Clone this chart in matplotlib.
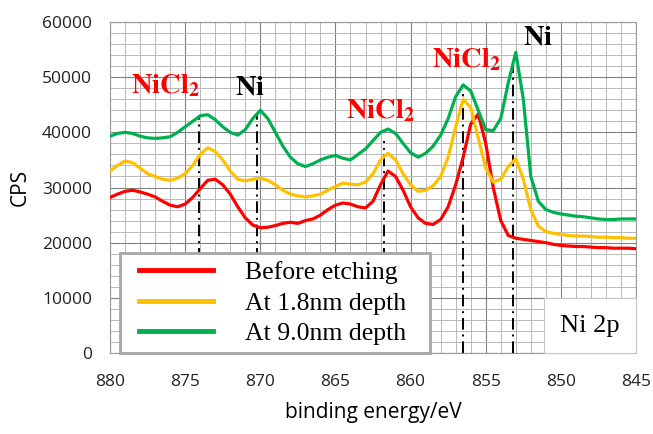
import numpy as np
import matplotlib.pyplot as plt
from matplotlib.ticker import MultipleLocator
from matplotlib.legend_handler import HandlerLine2D
from matplotlib.lines import Line2D
from matplotlib.offsetbox import AnchoredText

plt.rcParams['mathtext.fontset'] = 'stix'

# binding energy grid (eV), 0.5 eV steps from 880 down to 845
energy = np.arange(880, 844.9, -0.5)

before_etching = [
    28200, 28800, 29300, 29500, 29200, 28800, 28300, 27500, 26800, 26500,
    27000, 28200, 29800, 31300, 31500, 30500, 28800, 26500, 24500, 23200,
    22700, 22800, 23100, 23500, 23700, 23500, 24000, 24300, 25000, 26000,
    26800, 27200, 27000, 26500, 26300, 27500, 30500, 33000, 32000, 29500,
    26500, 24500, 23500, 23300, 24200, 26500, 30500, 35500, 41500, 43300,
    38000, 30000, 24000, 21300, 20800, 20600, 20400, 20200, 20000, 19700,
    19500, 19400, 19300, 19300, 19200, 19100, 19100, 19000, 19000, 19000,
    18900,
]
depth_1_8nm = [
    33000, 34000, 34800, 34500, 33500, 32500, 32000, 31500, 31300, 31700,
    32500, 34000, 36000, 37200, 36500, 35000, 33000, 31500, 31200, 31500,
    31700, 31300, 30500, 29500, 28800, 28500, 28300, 28500, 28800, 29500,
    30200, 30800, 30600, 30500, 31000, 32500, 35000, 36200, 35000, 32500,
    30500, 29300, 29500, 30300, 32000, 35500, 41000, 46000, 44500, 39000,
    33500, 31000, 31500, 33800, 35200, 31500, 26000, 23000, 22000, 21700,
    21500, 21300, 21200, 21200, 21100, 21000, 21000, 20900, 20900, 20800,
    20800,
]
depth_9_0nm = [
    39300, 39800, 40000, 39800, 39300, 39000, 38900, 39000, 39200, 40000,
    41000, 42000, 43000, 43200, 42300, 41000, 40000, 39500, 40500, 42500,
    44000, 42500, 40000, 37500, 35500, 34300, 33800, 34300, 35000, 35500,
    35800, 35300, 35000, 36000, 37000, 38500, 40000, 40600, 39800, 38000,
    36300, 35500, 36200, 37500, 39500, 42500, 46500, 48600, 47500, 44000,
    40500, 40300, 42500, 49000, 54500, 46000, 32000, 27500, 26000, 25500,
    25200, 25000, 24800, 24700, 24500, 24300, 24200, 24200, 24300, 24300,
    24300,
]
series_labels = ['Before etching', 'At 1.8nm depth', 'At 9.0nm depth']
series_colors = ['#ff0000', '#ffc000', '#00b050']

# peak marker lines: position (eV) and top (CPS)
peak_pos = [874.1, 870.2, 861.8, 856.5, 853.2]
peak_top = [43000, 43500, 38500, 47000, 53000]

# peak labels: text, energy, CPS, colour
peak_labels = [
    (r'$\mathbf{NiCl_2}$', 876.3, 48600, '#ff0000'),
    (r'$\mathbf{Ni}$', 870.7, 48300, 'black'),
    (r'$\mathbf{NiCl_2}$', 862.0, 44100, '#ff0000'),
    (r'$\mathbf{NiCl_2}$', 856.3, 53200, '#ff0000'),
    (r'$\mathbf{Ni}$', 851.5, 57400, 'black'),
]

fig = plt.figure(figsize=(6.53, 4.34), dpi=100)
ax = fig.add_axes([0.1685, 0.1866, 0.8055, 0.7627])

for ys, lab, col in zip([before_etching, depth_1_8nm, depth_9_0nm], series_labels, series_colors):
    ax.plot(energy, ys, color=col, lw=2.3, label=lab, zorder=3)

ax.vlines(peak_pos, 0, peak_top, colors='black', lw=1.4,
          linestyles=[(0, (6, 2.5, 1, 2.5))], zorder=2)

for txt, x, y, col in peak_labels:
    ax.text(x, y, txt, color=col, fontsize=20.5, ha='center', va='center', zorder=4)

ax.set_xlim(880, 845)
ax.set_ylim(0, 60000)
ax.xaxis.set_major_locator(MultipleLocator(5))
ax.xaxis.set_minor_locator(MultipleLocator(1))
ax.yaxis.set_major_locator(MultipleLocator(10000))
ax.yaxis.set_minor_locator(MultipleLocator(2000))
ax.grid(which='major', color='#808080', lw=0.8, zorder=0)
ax.grid(which='minor', color='#b8b8b8', lw=0.7, zorder=0)
ax.set_axisbelow(True)
ax.tick_params(which='both', length=0)
ax.tick_params(axis='y', pad=13)
ax.tick_params(axis='x', pad=15)
for lbl in ax.get_xticklabels() + ax.get_yticklabels():
    lbl.set_fontfamily('Open Sans')
    lbl.set_fontsize(12.5)
    lbl.set_color('#222222')
for sp in ax.spines.values():
    sp.set_color('#999999')
    sp.set_linewidth(0.8)

ax.set_xlabel('binding energy/eV', fontfamily='Open Sans', fontsize=15, labelpad=9)
ax.set_ylabel('CPS', fontfamily='Open Sans', fontsize=15, labelpad=8)

leg = ax.legend(loc='lower left', bbox_to_anchor=(0.019, 0.0, 0.589, 0.3), mode='expand',
                borderaxespad=0, prop={'family': 'Liberation Serif', 'size': 18.5},
                handlelength=3.3, handletextpad=1.28, borderpad=0.3,
                labelspacing=0.3, fancybox=False, framealpha=1,
                edgecolor='#a6a6a6',
                handler_map={Line2D: HandlerLine2D(xpad=0.43)})
leg.get_frame().set_linewidth(2)
leg.set_zorder(5)
for l in leg.get_lines():
    l.set_linewidth(3.5)

box = AnchoredText('Ni 2p', loc='lower right', borderpad=0, pad=0.62, frameon=True,
                   prop={'family': 'Liberation Serif', 'size': 19})
box.patch.set_facecolor('white')
box.patch.set_edgecolor('#c8c8c8')
box.patch.set_linewidth(0.8)
box.set_zorder(5)
ax.add_artist(box)

fig.savefig('out.png', dpi=100)
